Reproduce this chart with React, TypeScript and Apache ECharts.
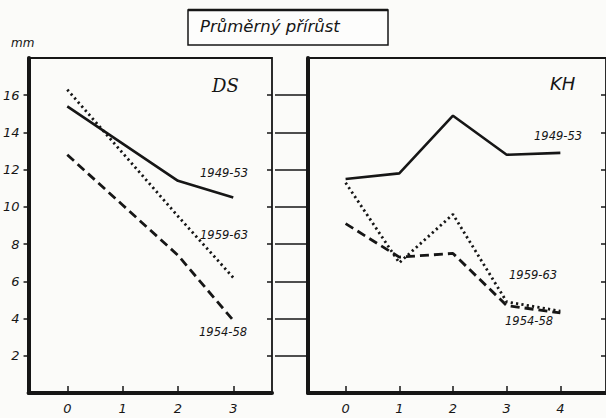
import React, { useEffect, useRef } from "react";
import * as echarts from "echarts";

const xsDS = [0, 1, 2, 3];
const xsKH = [0, 1, 2, 3, 4];
const ds4953 = [15.4, 13.4, 11.4, 10.5];
const ds5963 = [16.3, 12.9, 9.5, 6.2];
const ds5458 = [12.8, 10.1, 7.4, 3.9];
const kh4953 = [11.5, 11.8, 14.9, 12.8, 12.9];
const kh5963 = [11.3, 7.0, 9.6, 4.9, 4.4];
const kh5458 = [9.1, 7.3, 7.5, 4.7, 4.3];
const yTicks = [2, 4, 6, 8, 10, 12, 14, 16];
const seriesNames = ["1949-53", "1959-63", "1954-58"];
const panelNames = ["DS", "KH"];
const title = "Průměrný přírůst";
const unit = "mm";

const INK = "#161616";
const FONT = "DejaVu Sans";

export default function App() {
  const ref = useRef<HTMLDivElement>(null);
  useEffect(() => {
    if (!ref.current) return;
    const chart = echarts.init(ref.current, null, { renderer: "svg" });
    const pair = (xs: number[], vs: number[]) => xs.map((x, i) => [x, vs[i]]);
    const lineSolid = { color: INK, width: 2.6, type: "solid" as const };
    const lineDot = { color: INK, width: 2.8, type: [2.2, 3.2] as any, cap: "butt" as const };
    const lineDash = { color: INK, width: 2.8, type: [9, 5] as any };
    const mk = (name: string, xi: number, data: any, ls: any) => ({
      type: "line",
      name,
      xAxisIndex: xi,
      yAxisIndex: xi * 2,
      data,
      showSymbol: false,
      lineStyle: ls,
      z: 3,
    });
    const labelStyle = { fontFamily: FONT, fontStyle: "italic", fontSize: 12, fill: INK };
    const txt = (x: number, y: number, t: string, extra: any = {}) => ({
      type: "text",
      left: x,
      top: y,
      style: { text: t, ...labelStyle, ...extra },
    });
    const grids = [
      { left: 28, top: 58, width: 244, height: 335 },
      { left: 308, top: 58, width: 310, height: 335 },
    ];
    const xAxisBase = (gi: number, min: number, max: number, vals: number[]) => ({
      type: "value",
      gridIndex: gi,
      min,
      max,
      splitLine: { show: false },
      axisLine: { onZero: false, lineStyle: { color: INK, width: 4 } },
      axisTick: { customValues: vals, inside: true, length: 7, lineStyle: { color: INK, width: 1.5 } },
      axisLabel: {
        customValues: vals,
        margin: 9,
        color: INK,
        fontFamily: FONT,
        fontStyle: "italic",
        fontSize: 13,
      },
    });
    const yAxes: any[] = [];
    [0, 1].forEach((gi) => {
      yAxes.push({
        type: "value",
        gridIndex: gi,
        min: 0,
        max: 18,
        interval: 2,
        splitLine: { show: false },
        axisLine: { onZero: false, lineStyle: { color: INK, width: 4 } },
        axisTick: {
          customValues: yTicks,
          inside: false,
          length: gi === 0 ? 5 : 33,
          lineStyle: { color: INK, width: 1.5 },
        },
        axisLabel: {
          show: gi === 0,
          customValues: yTicks,
          margin: 9,
          color: INK,
          fontFamily: FONT,
          fontStyle: "italic",
          fontSize: 13,
        },
      });
      yAxes.push({
        type: "value",
        gridIndex: gi,
        min: 0,
        max: 18,
        interval: 2,
        splitLine: { show: false },
        axisLine: { onZero: false, show: false },
        axisTick: { customValues: yTicks, inside: true, length: 5, lineStyle: { color: INK, width: 1.5 } },
        axisLabel: { show: false },
      });
    });
    chart.setOption({
      animation: false,
      backgroundColor: "#fbfbf9",
      grid: grids.map((g) => ({ ...g, show: true, borderColor: INK, borderWidth: 1.8 })),
      xAxis: [xAxisBase(0, -0.7, 3.7, xsDS), xAxisBase(1, -0.7, 4.85, xsKH)],
      yAxis: yAxes,
      series: [
        mk(seriesNames[0], 0, pair(xsDS, ds4953), lineSolid),
        mk(seriesNames[1], 0, pair(xsDS, ds5963), lineDot),
        mk(seriesNames[2], 0, pair(xsDS, ds5458), lineDash),
        mk(seriesNames[0], 1, pair(xsKH, kh4953), lineSolid),
        mk(seriesNames[1], 1, pair(xsKH, kh5963), lineDot),
        mk(seriesNames[2], 1, pair(xsKH, kh5458), lineDash),
      ],
      graphic: [
        {
          type: "rect",
          shape: { x: 188, y: 10, width: 200, height: 35 },
          style: { fill: "#fdfdfc", stroke: INK, lineWidth: 1.5 },
        },
        {
          type: "line",
          shape: { x1: 188, y1: 10, x2: 388, y2: 10 },
          style: { stroke: INK, lineWidth: 2.5 },
        },
        txt(200, 18, title, { fontSize: 16.5 }),
        txt(11, 37, unit, { fontSize: 12 }),
        txt(212, 76, panelNames[0], { fontSize: 18, fontFamily: "DejaVu Serif" }),
        txt(550, 74, panelNames[1], { fontSize: 18 }),
        txt(200, 167, seriesNames[0], { fontSize: 11.5 }),
        txt(200, 229, seriesNames[1], { fontSize: 11.5 }),
        txt(199, 326, seriesNames[2], { fontSize: 11.5 }),
        txt(534, 130, seriesNames[0], { fontSize: 11.5 }),
        txt(509, 269, seriesNames[1], { fontSize: 11.5 }),
        txt(505, 315, seriesNames[2], { fontSize: 11.5 }),
      ],
    });
    return () => chart.dispose();
  }, []);
  return (
    <div
      ref={ref}
      style={{ position: "fixed", left: 0, top: 0, width: 606, height: 418 }}
    />
  );
}
